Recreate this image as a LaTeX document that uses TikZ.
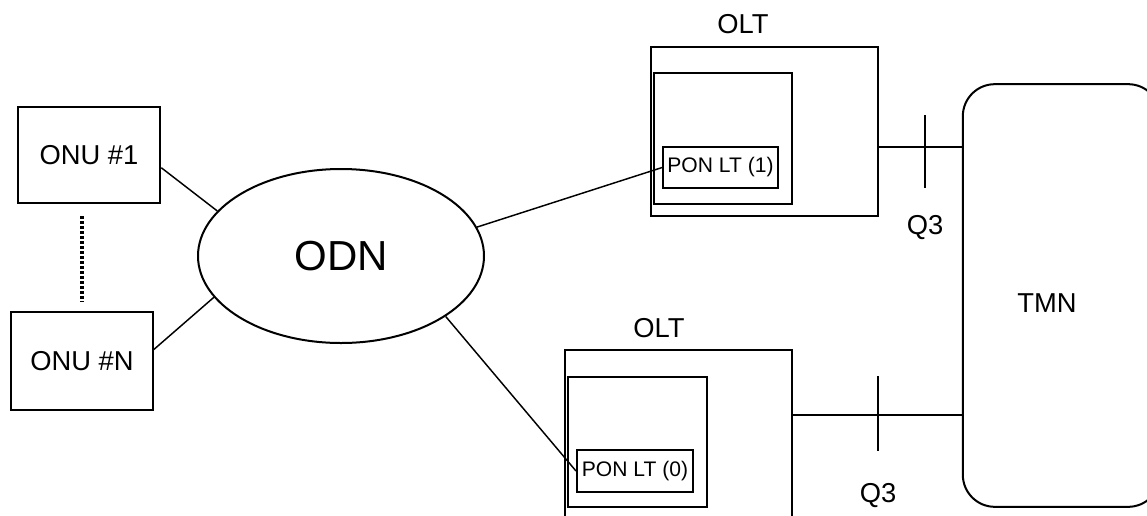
\documentclass[tikz,border=0pt]{standalone}
\usepackage{fontspec}
\setmainfont{Liberation Sans}
\usetikzlibrary{shapes.geometric,calc}
\begin{document}
\begin{tikzpicture}[x=0.75pt,y=-0.75pt,
  box/.style={draw,line width=1.5pt,rectangle,inner sep=0pt},
  lbl/.style={font=\fontsize{20.5}{22}\selectfont,inner sep=0pt},
  ponbox/.style={box,font=\fontsize{15.8}{17}\selectfont},
  wire/.style={line width=1.1pt},
  tick/.style={line width=1.1pt}]
\clip (0,0) rectangle (1147,515);
\useasboundingbox (0,0) rectangle (1147,515);
% ONUs
\node[box,lbl,minimum width=107pt,minimum height=72pt] (onu1) at (89,155) {ONU \#1};
\node[box,lbl,minimum width=106pt,minimum height=73.5pt] (onun) at (82,361) {ONU \#N};
\coordinate (d1) at (82,216);
\coordinate (d2) at (82,302);
\draw[line width=2.4pt,dash pattern=on 2.25pt off 1.5pt] (d1) -- (d2);
% ODN
\node[draw,line width=1.5pt,ellipse,inner sep=0pt,minimum width=214.5pt,minimum height=130.5pt,
      font=\fontsize{31.5}{33}\selectfont] (odn) at (341,256) {ODN};
% OLT 1
\node[box,minimum width=170pt,minimum height=127pt] (olt1) at (764.5,131.5) {};
\node[box,minimum width=103.5pt,minimum height=98pt] (in1) at (723,138.5) {};
\node[ponbox,minimum width=86pt,minimum height=31pt] (pon1) at (720.5,167.5) {PON LT (1)};
\node[lbl] (olt1l) at (743,24) {OLT};
% OLT 2
\node[box,minimum width=170pt,minimum height=143pt] (olt2) at (678.5,445) {};
\node[box,minimum width=104pt,minimum height=97.5pt] (in2) at (637.5,442) {};
\node[ponbox,minimum width=87pt,minimum height=31.5pt] (pon0) at (635,471) {PON LT (0)};
\node[lbl] (olt2l) at (659,328) {OLT};
% TMN
\node[draw,line width=1.5pt,rectangle,rounded corners=24pt,minimum width=148pt,minimum height=317pt] (tmn) at (1061.5,295.5) {};
\node[lbl] (tmnl) at (1047,303) {TMN};
% wires
\draw[wire] (onu1.-10.4) -- (odn.160.2);
\draw[wire] (onun.9) -- (odn.198.6);
\draw[wire] (odn.12.7) -- (pon1.west);
\draw[wire] (odn.-30.4) -- (pon0.west);
% Q3 links
\coordinate (q1) at (925,147);
\coordinate (q2) at (878,415);
\draw[wire] (olt1.east |- q1) -- (tmn.west |- q1);
\draw[tick] ($(q1)+(0,-32)$) -- ($(q1)+(0,41)$);
\draw[wire] (olt2.east |- q2) -- (tmn.west |- q2);
\draw[tick] ($(q2)+(0,-39)$) -- ($(q2)+(0,36)$);
\node[lbl] (q1l) at (925,228) {Q3};
\node[lbl] (q2l) at (878,496) {Q3};
\end{tikzpicture}
\end{document}
